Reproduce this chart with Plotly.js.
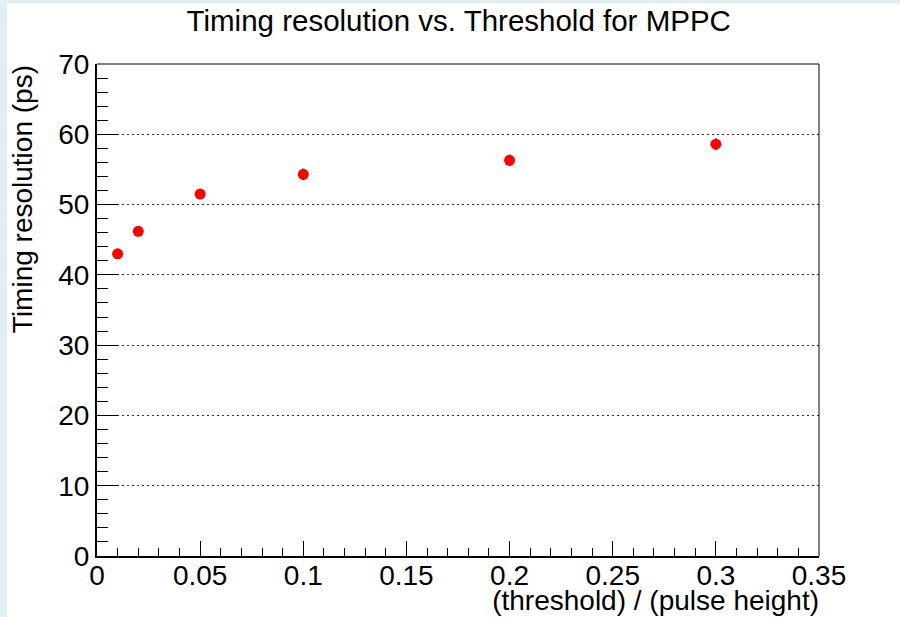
<!DOCTYPE html>
<html>
<head>
<meta charset="utf-8">
<script src="https://cdn.plot.ly/plotly-3.0.1.min.js"></script>
<style>
html,body{margin:0;padding:0;background:#ffffff;}
#chart{width:900px;height:617px;}
</style>
</head>
<body>
<div id="chart"></div>
<script>
// Data
const thresholdRatio = [0.01, 0.02, 0.05, 0.1, 0.2, 0.3];
const timingResolution = [43.0, 46.2, 51.5, 54.3, 56.3, 58.6];
const timingError = [0.3, 0.3, 0.4, 0.8, 0.8, 0.8];

const xTickVals = [0, 0.05, 0.1, 0.15, 0.2, 0.25, 0.3, 0.35];
const xTickText = ["0", "0.05", "0.1", "0.15", "0.2", "0.25", "0.3", "0.35"];
const yTickVals = [0, 10, 20, 30, 40, 50, 60, 70];
const yTickText = ["0", "10", "20", "30", "40", "50", "60", "70"];

const FONT = "Liberation Sans, Arial, Helvetica, sans-serif";

const trace = {
  x: thresholdRatio,
  y: timingResolution,
  type: "scatter",
  mode: "markers",
  marker: {color: "#ff0000", size: 11},
  error_y: {type: "data", array: timingError, visible: true, color: "#000000", thickness: 2, width: 0},
  hoverinfo: "x+y"
};

const layout = {
  width: 900,
  height: 617,
  margin: {l: 97, r: 81, t: 64, b: 61},
  paper_bgcolor: "#ffffff",
  plot_bgcolor: "#ffffff",
  showlegend: false,
  font: {family: FONT, color: "#000000", size: 28},
  title: {
    text: "Timing resolution vs. Threshold for MPPC",
    font: {family: FONT, size: 29.5, color: "#000000"},
    x: 0.501, xref: "paper", xanchor: "center",
    y: 0.966, yref: "container", yanchor: "middle"
  },
  xaxis: {
    range: [0, 0.35],
    tickmode: "array",
    tickvals: xTickVals,
    ticktext: xTickText,
    ticks: "inside",
    ticklen: 15,
    tickwidth: 1,
    tickcolor: "#000000",
    minor: {dtick: 0.01, ticks: "inside", ticklen: 8, tickwidth: 1, tickcolor: "#000000", showgrid: false},
    showgrid: false,
    zeroline: false,
    showline: true,
    linecolor: "#000000",
    linewidth: 2,
    mirror: false,
    tickfont: {family: FONT, size: 28, color: "#000000"},
    ticklabelstandoff: -7,
    title: {
      text: "(threshold) / (pulse height)",
      font: {family: FONT, size: 28, color: "#000000"},
      standoff: 0
    },
    fixedrange: true
  },
  yaxis: {
    range: [0, 70],
    tickmode: "array",
    tickvals: yTickVals,
    ticktext: yTickText,
    ticks: "inside",
    ticklen: 21,
    tickwidth: 1,
    tickcolor: "#000000",
    minor: {dtick: 2, ticks: "inside", ticklen: 11, tickwidth: 1, tickcolor: "#000000", showgrid: false},
    showgrid: true,
    gridcolor: "#333333",
    gridwidth: 1,
    griddash: "2px,3px",
    zeroline: false,
    showline: true,
    linecolor: "#000000",
    linewidth: 2,
    mirror: false,
    tickfont: {family: FONT, size: 28, color: "#000000"},
    ticklabelstandoff: 0,
    title: {
      text: "Timing resolution (ps)",
      font: {family: FONT, size: 28, color: "#000000"},
      standoff: 10
    },
    fixedrange: true
  },
  shapes: [
    // light blue outer strips (left and top)
    {type: "rect", xref: "paper", yref: "paper", x0: -97/722, x1: -90/722, y0: -61/492, y1: 556/492, fillcolor: "#e1eef6", line: {width: 0}, layer: "below"},
    {type: "rect", xref: "paper", yref: "paper", x0: -97/722, x1: 803/722, y0: 553/492, y1: 556/492, fillcolor: "#e1eef6", line: {width: 0}, layer: "below"},
    // frame top and right
    {type: "line", xref: "paper", yref: "paper", x0: 0, x1: 1, y0: 1, y1: 1, line: {color: "#000000", width: 1}},
    {type: "line", xref: "paper", yref: "paper", x0: 1, x1: 1, y0: 0, y1: 1, line: {color: "#000000", width: 1}}
  ]
};

Plotly.newPlot("chart", [trace], layout, {displayModeBar: false, staticPlot: true});

// Move axis titles to ROOT-like positions (right/top aligned)
function adjustTitles() {
  const xt = document.querySelector(".g-xtitle text");
  if (xt) {
    xt.setAttribute("text-anchor", "end");
    xt.setAttribute("x", 819);
    xt.setAttribute("y", 608);
  }
  const yt = document.querySelector(".g-ytitle text");
  if (yt) {
    yt.setAttribute("text-anchor", "end");
    yt.setAttribute("x", 32);
    yt.setAttribute("y", 65);
    yt.setAttribute("transform", "rotate(-90,32,65)");
  }
}
adjustTitles();
</script>
</body>
</html>
